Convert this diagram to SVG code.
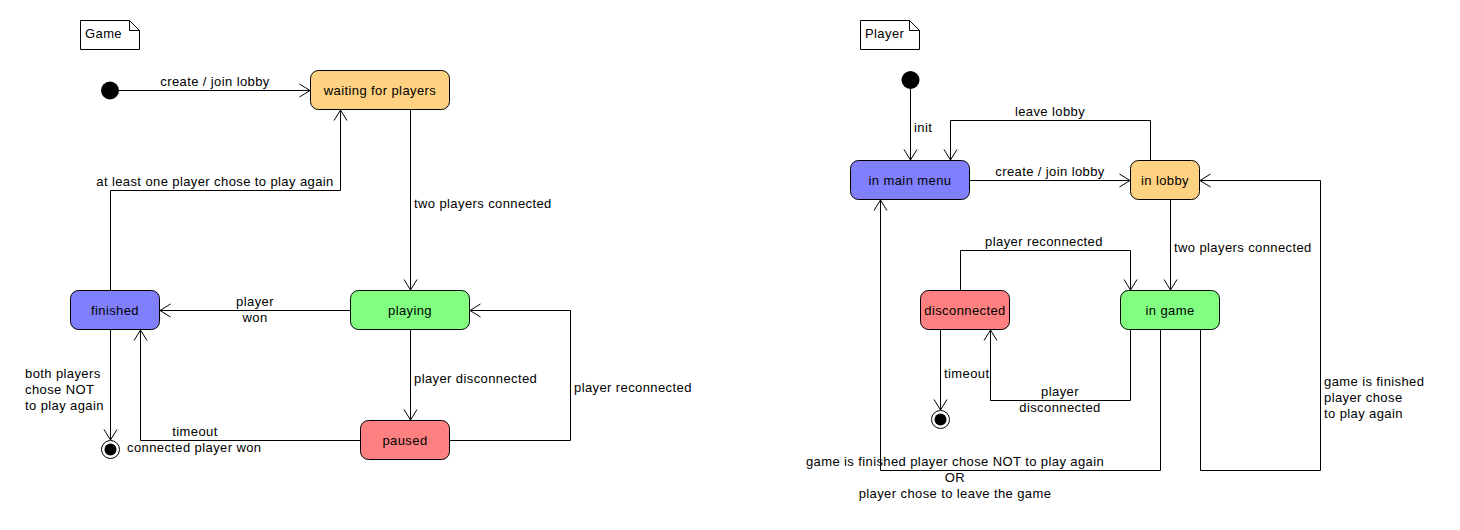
<svg xmlns="http://www.w3.org/2000/svg" width="1460" height="530" viewBox="0 0 1460 530">
<style>
text{font-family:"Liberation Sans",Arial,sans-serif;font-size:13px;letter-spacing:0.4px;fill:#000}
.m{text-anchor:middle}
.st{stroke:#000;stroke-width:1}
.orange{fill:#FFD281}
.green{fill:#80FF80}
.blue{fill:#8080FF}
.red{fill:#FF8080}
.edge{fill:none;stroke:#000;stroke-width:1;marker-end:url(#arr)}
.note{fill:#fff;stroke:#000;stroke-width:1}
</style>
<defs>
<marker id="arr" markerUnits="userSpaceOnUse" markerWidth="14" markerHeight="16" viewBox="0 0 14 16" refX="12" refY="8" orient="auto">
<path d="M1.5,1.5 L12,8 L1.5,14.5" fill="none" stroke="#000" stroke-width="1"/>
</marker>
</defs>
<rect width="1460" height="530" fill="#fff"/>

<g id="connectors">
<path class="edge" d="M119,90.5 H310"/>
<path class="edge" d="M410.5,110 V290"/>
<path class="edge" d="M110.5,290 V190.5 H340.5 V110"/>
<path class="edge" d="M350,310.5 H160"/>
<path class="edge" d="M410.5,330 V420"/>
<path class="edge" d="M110.5,330 V440"/>
<path class="edge" d="M360,440.5 H140.5 V330"/>
<path class="edge" d="M450,440.5 H570.5 V310.5 H470"/>

<path class="edge" d="M910.5,89 V160"/>
<path class="edge" d="M970,180.5 H1130"/>
<path class="edge" d="M1150.5,160 V120.5 H950.5 V160"/>
<path class="edge" d="M960.5,290 V250.5 H1130.5 V290"/>
<path class="edge" d="M1170.5,200 V290"/>
<path class="edge" d="M1130.5,330 V400.5 H990.5 V330"/>
<path class="edge" d="M940.5,330 V410"/>
<path class="edge" d="M1160.5,330 V470.5 H880.5 V200"/>
<path class="edge" d="M1200.5,330 V470.5 H1320.5 V180.5 H1200"/>

<text class="m" x="215" y="86">create / join lobby</text>
<text x="414" y="208">two players connected</text>
<text class="m" x="215" y="186">at least one player chose to play again</text>
<text class="m" x="255" y="306">player</text>
<text class="m" x="255" y="322">won</text>
<text x="414" y="383">player disconnected</text>
<text x="25" y="378">both players</text>
<text x="25" y="394">chose NOT</text>
<text x="25" y="410">to play again</text>
<text class="m" x="195" y="436">timeout</text>
<text x="127" y="452">connected player won</text>
<text x="574" y="392">player reconnected</text>

<text x="914" y="132">init</text>
<text class="m" x="1050" y="176">create / join lobby</text>
<text class="m" x="1050" y="116">leave lobby</text>
<text class="m" x="1044" y="246">player reconnected</text>
<text x="1174" y="252">two players connected</text>
<text class="m" x="1060" y="396">player</text>
<text class="m" x="1060" y="412">disconnected</text>
<text x="944" y="378">timeout</text>
<text class="m" x="955" y="466">game is finished player chose NOT to play again</text>
<text class="m" x="955" y="482">OR</text>
<text class="m" x="955" y="498">player chose to leave the game</text>
<text x="1324" y="386">game is finished</text>
<text x="1324" y="402">player chose</text>
<text x="1324" y="418">to play again</text>
</g>

<g id="note-game">
<path class="note" d="M80.5,20.5 H129.5 L139.5,30.5 V49.5 H80.5 Z M129.5,20.5 V30.5 H139.5"/>
<text x="85" y="38">Game</text>
</g>
<g id="game-initial"><circle cx="110" cy="90.5" r="9" fill="#000"/></g>
<g id="waiting-for-players">
<rect class="st orange" x="310.5" y="70.5" width="139" height="39" rx="8"/>
<text class="m" x="380" y="95">waiting for players</text>
</g>
<g id="finished">
<rect class="st blue" x="70.5" y="290.5" width="89" height="39" rx="8"/>
<text class="m" x="115" y="315">finished</text>
</g>
<g id="playing">
<rect class="st green" x="350.5" y="290.5" width="119" height="39" rx="8"/>
<text class="m" x="410" y="315">playing</text>
</g>
<g id="paused">
<rect class="st red" x="360.5" y="420.5" width="89" height="39" rx="8"/>
<text class="m" x="405" y="445">paused</text>
</g>
<g id="game-final">
<circle cx="110.5" cy="449.5" r="9" fill="#fff" stroke="#000"/>
<circle cx="110.5" cy="449.5" r="6" fill="#000"/>
</g>

<g id="note-player">
<path class="note" d="M860.5,20.5 H909.5 L919.5,30.5 V49.5 H860.5 Z M909.5,20.5 V30.5 H919.5"/>
<text x="865" y="38">Player</text>
</g>
<g id="player-initial"><circle cx="910.5" cy="80" r="9" fill="#000"/></g>
<g id="in-main-menu">
<rect class="st blue" x="850.5" y="160.5" width="119" height="39" rx="8"/>
<text class="m" x="910" y="185">in main menu</text>
</g>
<g id="in-lobby">
<rect class="st orange" x="1130.5" y="160.5" width="69" height="39" rx="8"/>
<text class="m" x="1165" y="185">in lobby</text>
</g>
<g id="disconnected">
<rect class="st red" x="920.5" y="290.5" width="89" height="39" rx="8"/>
<text class="m" x="965" y="315">disconnected</text>
</g>
<g id="in-game">
<rect class="st green" x="1120.5" y="290.5" width="99" height="39" rx="8"/>
<text class="m" x="1170" y="315">in game</text>
</g>
<g id="player-final">
<circle cx="940.5" cy="419.5" r="9" fill="#fff" stroke="#000"/>
<circle cx="940.5" cy="419.5" r="6" fill="#000"/>
</g>
</svg>
